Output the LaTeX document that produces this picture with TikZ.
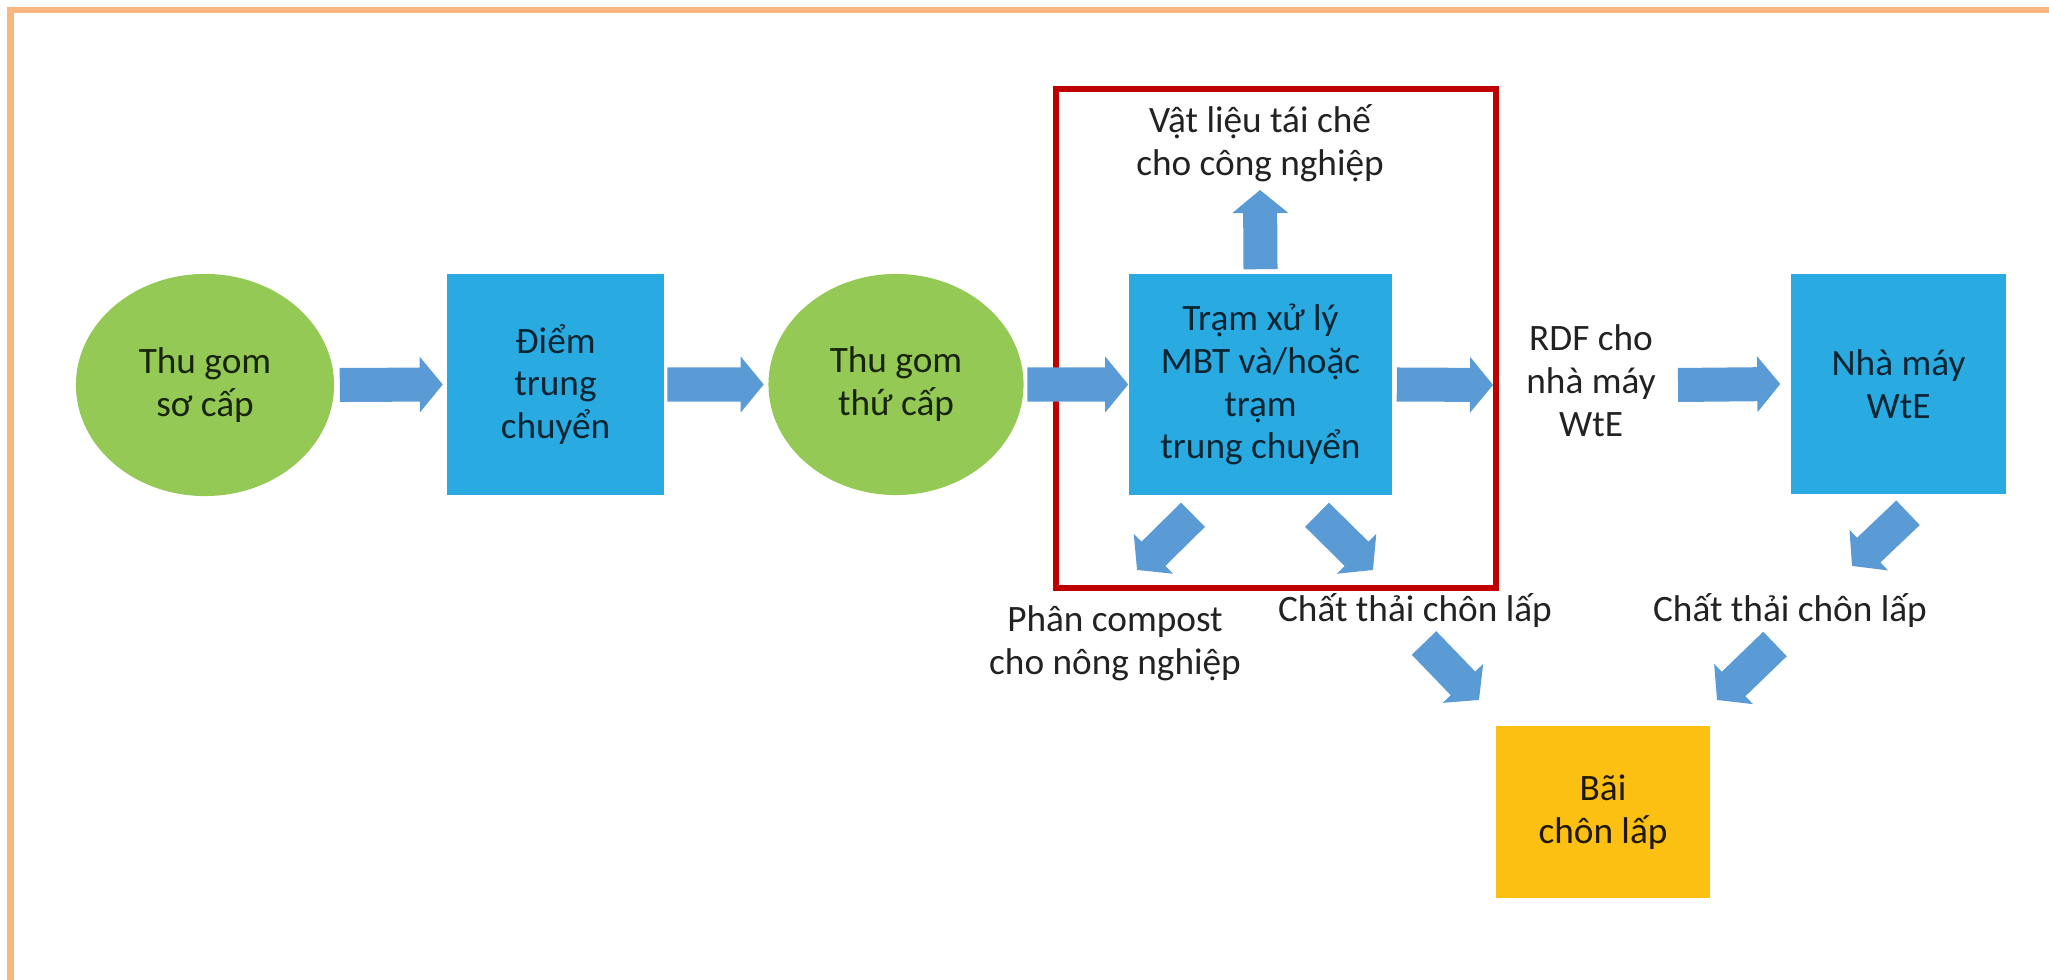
\documentclass[tikz,border=0pt]{standalone}
\usepackage{fontspec}
\setmainfont{Carlito}
\usetikzlibrary{shapes.geometric,calc}
\definecolor{greenc}{HTML}{94C955}
\definecolor{bluec}{HTML}{29ABE2}
\definecolor{arrowc}{HTML}{5B9BD5}
\definecolor{redc}{HTML}{C00000}
\definecolor{yellowc}{HTML}{FCC012}
\definecolor{borderc}{HTML}{F8B781}
\definecolor{txtplain}{HTML}{222222}
\definecolor{txtblue}{HTML}{0B2532}
\definecolor{txtgreen}{HTML}{18240C}
\definecolor{txtyellow}{HTML}{201800}
\newcommand\fsz{\fontsize{10.6}{12.2}\selectfont}
\newcommand\blockarr[2]{%
  \path let \p1=(#1), \p2=(#2), \n1={atan2(\y2-\y1,\x2-\x1)}, \n2={veclen(\x2-\x1,\y2-\y1)} in
    \pgfextra{\xdef\baA{\n1}\xdef\baL{\n2}\xdef\baX{\x1}\xdef\baY{\y1}};
  \fill[arrowfill, shift={(\baX,\baY)}, rotate=\baA]
    (0pt,-0.17cm) -- ({\baL-0.23cm},-0.17cm) -- ({\baL-0.23cm},-0.28cm) -- (\baL,0pt)
    -- ({\baL-0.23cm},0.28cm) -- ({\baL-0.23cm},0.17cm) -- (0pt,0.17cm) -- cycle;
}
\tikzset{
  arrowfill/.style={fill=arrowc},
  circ/.style={ellipse, fill=greenc, inner sep=0pt, align=center, font=\fsz, text=txtgreen},
  bluebox/.style={rectangle, fill=bluec, inner sep=0pt, align=center, font=\fsz, text=txtblue},
  landbox/.style={rectangle, fill=yellowc, inner sep=0pt, align=center, font=\fsz, text=txtyellow},
  lbl/.style={inner sep=0pt, align=center, font=\fsz, text=txtplain},
  frame/.style={draw=redc, line width=0.06cm},
  border/.style={draw=borderc, line width=0.06cm}
}
\begin{document}
\begin{tikzpicture}[x=0.01cm, y=-0.01cm]
\useasboundingbox (0,0) rectangle (2049,980);
\draw[border] (10.5,980) -- (10.5,10.5) -- (2049,10.5);

% red frame
\draw[frame] (1056,89.5) rectangle (1496,588);

% nodes
\node[circ, minimum width=2.58cm, minimum height=2.22cm] (c1) at (205,385) {Thu gom\\sơ cấp};
\node[bluebox, minimum width=2.16cm, minimum height=2.21cm] (b1) at (555.5,384.5) {Điểm\\trung\\chuyển};
\node[circ, minimum width=2.55cm, minimum height=2.21cm] (c2) at (896,384.5) {Thu gom\\thứ cấp};
\node[bluebox, minimum width=2.63cm, minimum height=2.21cm] (b2) at (1260.5,384.5) {Trạm xử lý\\MBT và/hoặc\\trạm\\trung chuyển};
\node[lbl] (rec) at (1260,143) {Vật liệu tái chế\\cho công nghiệp};
\node[lbl] (rdf) at (1591,381) {RDF cho\\nhà máy\\WtE};
\node[bluebox, minimum width=2.15cm, minimum height=2.20cm] (b3) at (1898.5,384) {Nhà máy\\WtE};
\node[lbl] (comp) at (1115,643) {Phân compost\\cho nông nghiệp};
\node[lbl] (l1) at (1415,611) {Chất thải chôn lấp};
\node[lbl] (l2) at (1790,611) {Chất thải chôn lấp};
\node[landbox, minimum width=2.14cm, minimum height=1.72cm] (land) at (1603,812) {Bãi\\chôn lấp};

% connectors (block arrows)
\blockarr{$(c1.east)+(5,0)$}{$(b1.west)+(-4,0)$}
\blockarr{$(b1.east)+(3,0)$}{$(c2.west)+(-4,0)$}
\blockarr{$(c2.east)+(3,0)$}{$(b2.west)+(0,0)$}
\blockarr{$(b2.east)+(4,0)$}{$(rdf.center)+(-98,4)$}
\blockarr{$(rdf.center)+(87,4)$}{$(b3.west)+(-10,0)$}
\blockarr{$(b2.north)+(0,-4)$}{$(rec.center)+(0,47)$}
\blockarr{$(b2.south)+(-67.5,19)$}{$(comp.center)+(22,-73)$}
\blockarr{$(b2.south)+(56.5,19)$}{$(l1.center)+(-42,-41)$}
\blockarr{$(b3.south)+(9.5,18)$}{$(l2.center)+(62,-45)$}
\blockarr{$(l1.center)+(9,32)$}{$(land.center)+(-124,-112)$}
\blockarr{$(l2.center)+(-15,33)$}{$(land.center)+(114,-112)$}
\end{tikzpicture}
\end{document}
